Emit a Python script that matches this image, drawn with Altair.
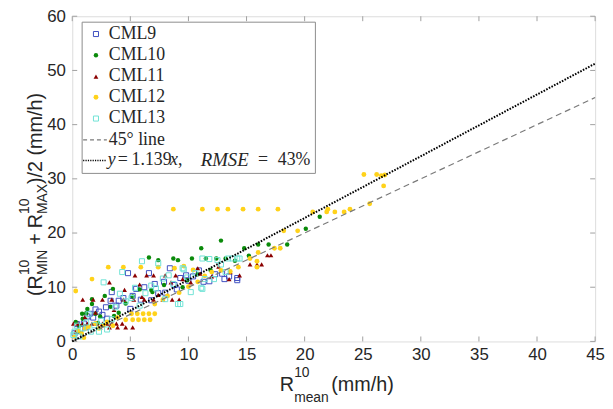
import altair as alt
import pandas as pd

# ---------------- data ----------------
series_names = ["CML9", "CML10", "CML11", "CML12", "CML13"]

cml9 = [(0.2, 1.5), (0.4, 3.2), (0.7, 2.3), (1.0, 3.3), (1.3, 4.6), (1.5, 5.1), (1.8, 4.4),
        (2.0, 5.9), (2.3, 5.5), (2.6, 4.9), (2.9, 6.3), (3.3, 7.5), (3.4, 9.1), (3.8, 6.6),
        (4.0, 7.5), (4.4, 8.0), (4.8, 12.6), (5.2, 8.4), (5.5, 9.7), (5.9, 7.7), (6.2, 10.0),
        (6.6, 12.6), (7.1, 10.6), (7.4, 8.9), (7.9, 11.0), (8.4, 13.5), (8.8, 10.4), (9.3, 11.7),
        (9.8, 12.2), (10.4, 12.0), (10.9, 13.1), (11.3, 11.0), (11.8, 11.1), (12.3, 12.4),
        (12.9, 12.5), (13.1, 11.5), (13.5, 12.0), (14.2, 11.3), (14.2, 11.7), (3.0, 4.2),
        (5.0, 6.0), (6.8, 7.6), (8.0, 9.0), (9.0, 9.6), (10.0, 11.2), (1.2, 2.6), (0.5, 1.0)]

cml10 = [(0.3, 3.6), (0.6, 2.9), (0.9, 4.2), (0.85, 5.1), (1.2, 5.2), (1.3, 6.0), (1.7, 6.9),
         (1.7, 7.8), (2.0, 5.1), (2.4, 4.6), (2.8, 8.4), (3.3, 6.4), (3.5, 9.7), (3.6, 4.7),
         (4.0, 5.3), (4.6, 7.0), (5.2, 8.3), (5.8, 9.6), (6.6, 15.5), (6.8, 9.5), (6.9, 9.1),
         (7.4, 15.0), (7.9, 10.4), (8.7, 15.3), (9.1, 15.0), (9.5, 10.0), (9.9, 11.3),
         (10.3, 15.3), (10.8, 12.4), (11.1, 17.2), (11.5, 15.3), (11.9, 13.2), (12.4, 15.3),
         (12.8, 18.6), (13.2, 15.3), (14.0, 14.9), (14.8, 17.2), (16.0, 17.9), (16.9, 17.9),
         (18.5, 17.9), (20.1, 20.8), (21.3, 23.0), (15.2, 15.8), (2.2, 3.4), (0.5, 1.9)]

cml11 = [(0.1, 3.3), (0.5, 3.3), (0.9, 3.3), (1.3, 3.3), (1.7, 3.3), (2.1, 3.3), (2.6, 3.3),
         (3.0, 3.3), (3.4, 3.3), (3.8, 3.3), (4.3, 3.3), (2.4, 2.6), (3.2, 2.6), (3.9, 2.6),
         (4.6, 2.6), (5.2, 2.6), (0.9, 7.7), (1.8, 7.7), (2.6, 7.7), (3.4, 7.7), (4.4, 7.7),
         (5.3, 7.7), (6.2, 7.7), (7.0, 7.7), (7.8, 7.7), (8.6, 7.7), (9.2, 7.7), (5.4, 12.2),
         (6.4, 12.2), (7.0, 12.2), (8.0, 12.2), (8.9, 12.2), (3.2, 10.9), (4.5, 9.5),
         (5.8, 10.5), (6.0, 8.2), (7.4, 8.6), (8.5, 10.9), (9.5, 11.5), (10.2, 10.9),
         (11.0, 12.5), (12.0, 12.0), (13.6, 12.8), (14.4, 12.2), (13.5, 11.5), (15.3, 14.2),
         (15.9, 14.2), (16.3, 14.2), (16.8, 15.9), (17.1, 15.9), (0.3, 1.8), (1.1, 4.5),
         (2.0, 5.3), (3.6, 5.8), (10.8, 13.5), (12.6, 13.8)]

cml12 = [(0.2, 0.9), (0.3, 9.3), (0.5, 2.0), (0.8, 1.5), (1.1, 2.4), (1.4, 2.7), (1.7, 11.5),
         (2.0, 3.3), (2.3, 2.4), (2.7, 3.0), (3.0, 3.6), (3.1, 13.7), (3.5, 2.9), (3.9, 4.4),
         (4.4, 13.7), (4.6, 4.0), (5.1, 5.1), (5.2, 4.0), (5.6, 5.1), (5.7, 4.0), (5.9, 13.7),
         (6.1, 5.1), (6.2, 4.0), (6.6, 5.1), (6.7, 4.0), (7.1, 5.1), (7.1, 6.9), (7.4, 13.7),
         (7.8, 7.7), (8.2, 8.4), (8.7, 24.4), (8.8, 13.5), (9.2, 9.0), (9.6, 13.9),
         (10.0, 10.1), (10.4, 13.2), (10.8, 11.0), (11.2, 24.4), (11.4, 12.1), (12.0, 12.8),
         (12.5, 24.4), (12.8, 13.1), (13.4, 24.4), (13.6, 12.9), (14.3, 13.7), (14.7, 24.4),
         (15.3, 15.3), (15.9, 14.8), (15.9, 13.7), (16.0, 16.4), (16.0, 24.4), (17.4, 17.2),
         (17.7, 24.4), (17.9, 17.2), (18.2, 20.4), (19.4, 20.4), (20.7, 23.9), (21.9, 23.9),
         (22.0, 24.4), (22.6, 23.9), (23.4, 23.9), (23.9, 24.4), (25.6, 25.4), (25.1, 30.8),
         (26.2, 30.8), (26.6, 30.6), (26.9, 30.7), (26.8, 28.7), (1.0, 0.7)]

cml13 = [(0.1, 1.2), (0.2, 1.8), (0.4, 2.9), (0.6, 0.9), (0.9, 2.4), (1.2, 3.5), (1.6, 1.8),
         (1.9, 3.0), (2.3, 1.8), (2.5, 3.8), (2.7, 10.9), (3.0, 2.2), (3.4, 4.1), (3.7, 6.3),
         (4.1, 8.8), (4.3, 12.8), (4.6, 7.4), (5.1, 8.0), (5.4, 9.9), (6.0, 14.8), (6.3, 8.9),
         (6.8, 10.3), (7.2, 9.8), (7.4, 14.4), (7.8, 11.6), (8.3, 12.2), (8.7, 10.6), (9.1, 6.9),
         (9.3, 6.9), (9.5, 13.5), (9.6, 13.3), (9.9, 11.8), (10.2, 9.1), (10.6, 12.6),
         (11.1, 9.9), (11.2, 15.3), (11.2, 9.7), (11.4, 11.5), (11.8, 15.2), (12.2, 11.5),
         (12.5, 15.0), (12.8, 14.2), (13.2, 12.8), (13.4, 15.3), (13.8, 15.3), (14.2, 15.3),
         (14.4, 15.3), (5.8, 6.6), (8.0, 7.8), (1.4, 5.0)]

line45_x = [0, 45]
line45_y = [0, 45]
fit_x = [0, 45]
fit_y = [0, 51.255]
x_ticks = [0, 5, 10, 15, 20, 25, 30, 35, 40, 45]
y_ticks = [0, 10, 20, 30, 40, 50, 60]
fit_label = ["y", "=", "1.139", "x", ",", "RMSE", "=", "43%"]

# ---------------- styling ----------------
W, H = 529, 329
SANS = "Liberation Sans"
SERIF = "Liberation Serif"
FRAME = "#9a9a9a"
styles = {
    "CML9": dict(shape="square", filled=False, color="#3f4fc0", size=26, strokeWidth=1),
    "CML10": dict(shape="circle", filled=True, color="#0a8a0a", size=20, strokeWidth=0),
    "CML11": dict(shape="triangle-up", filled=True, color="#8b0000", size=24, strokeWidth=0),
    "CML12": dict(shape="circle", filled=True, color="#ffd21a", size=24, strokeWidth=0),
    "CML13": dict(shape="square", filled=False, color="#6fe3d6", size=26, strokeWidth=1),
}

xs = alt.Scale(domain=[0, 45], nice=False, zero=False)
ys = alt.Scale(domain=[0, 60], nice=False, zero=False)
ax_x = alt.Axis(values=x_ticks, ticks=False, domain=False, grid=False, title=None,
                labelFont=SANS, labelFontSize=17, labelColor="#262626", labelPadding=5,
                labelFlush=False, labelOverlap=False)
ax_y = alt.Axis(values=y_ticks, ticks=False, domain=False, grid=False, title=None,
                labelFont=SANS, labelFontSize=17, labelColor="#262626", labelPadding=7,
                labelFlush=False, labelOverlap=False)
X = lambda f: alt.X(f, type="quantitative", scale=xs, axis=ax_x)
Y = lambda f: alt.Y(f, type="quantitative", scale=ys, axis=ax_y)

layers = []

# ticks (inward, MATLAB style)
xt = pd.DataFrame({"v": x_ticks})
yt = pd.DataFrame({"v": y_ticks})
tick_color = "#a0a0a0"
layers.append(alt.Chart(xt).mark_rule(color=tick_color).encode(x=X("v"), y=alt.value(H), y2=alt.value(H - 5)))
layers.append(alt.Chart(xt).mark_rule(color=tick_color).encode(x=X("v"), y=alt.value(0), y2=alt.value(5)))
layers.append(alt.Chart(yt).mark_rule(color=tick_color).encode(y=Y("v"), x=alt.value(0), x2=alt.value(5)))
layers.append(alt.Chart(yt).mark_rule(color=tick_color).encode(y=Y("v"), x=alt.value(W), x2=alt.value(W - 5)))

# scatter series
for name, pts in zip(series_names, [cml9, cml10, cml11, cml12, cml13]):
    df = pd.DataFrame(pts, columns=["x", "y"])
    st = styles[name]
    layers.append(
        alt.Chart(df).mark_point(shape=st["shape"], filled=st["filled"], color=st["color"],
                                 size=st["size"], strokeWidth=st["strokeWidth"], opacity=1)
        .encode(x=X("x"), y=Y("y"))
    )

# lines
d45 = pd.DataFrame({"x": line45_x, "y": line45_y})
dfit = pd.DataFrame({"x": fit_x, "y": fit_y})
layers.append(alt.Chart(d45).mark_line(color="#7a7a7a", strokeDash=[6, 4], strokeWidth=1.2)
              .encode(x=X("x"), y=Y("y")))
layers.append(alt.Chart(dfit).mark_line(color="#000000", strokeDash=[1.6, 1.4], strokeWidth=2)
              .encode(x=X("x"), y=Y("y")))

one = pd.DataFrame({"k": [0]})


def txt(s, x, y, size, font=SANS, angle=0, style="normal", align="left", baseline="alphabetic"):
    kw = dict(font=font, fontSize=size, color="#262626", align=align, baseline=baseline,
              fontStyle=style)
    if angle:
        kw["angle"] = angle
    return alt.Chart(one).mark_text(**kw).encode(x=alt.value(x), y=alt.value(y), text=alt.value(s))


# legend box
layers.append(alt.Chart(one).mark_rect(fill="white", stroke="#8c8c8c", strokeWidth=1)
              .encode(x=alt.value(10), x2=alt.value(246), y=alt.value(6), y2=alt.value(159)))
rows = [18, 39.5, 61, 82, 103.5, 125, 146]
for i, name in enumerate(series_names):
    st = styles[name]
    layers.append(alt.Chart(one).mark_point(shape=st["shape"], filled=st["filled"], color=st["color"],
                                            size=st["size"], strokeWidth=st["strokeWidth"], opacity=1)
                  .encode(x=alt.value(24), y=alt.value(rows[i])))
    layers.append(txt(name, 37, rows[i], 18, font=SERIF, baseline="middle", style="normal"))
# 45 line entry
layers.append(alt.Chart(one).mark_rule(color="#7a7a7a", strokeDash=[4, 3], strokeWidth=1.2)
              .encode(x=alt.value(11), x2=alt.value(35), y=alt.value(rows[5]), y2=alt.value(rows[5])))
layers.append(txt("45° line", 37, rows[5], 18, font=SERIF, baseline="middle"))
# fit entry
layers.append(alt.Chart(one).mark_rule(color="#000000", strokeDash=[1.2, 1.2], strokeWidth=1.5)
              .encode(x=alt.value(11), x2=alt.value(35), y=alt.value(rows[6]), y2=alt.value(rows[6])))
fit_pos = [36, 46, 60, 99, 107, 130, 188, 208]
fit_ital = [True, False, False, True, False, True, False, False]
fit_size = [18, 18, 18, 18, 18, 19, 18, 18]
for s, px, it, fs in zip(fit_label, fit_pos, fit_ital, fit_size):
    layers.append(txt(s, px, rows[6], fs, font=SERIF, baseline="middle",
                      style="italic" if it else "normal"))

# x axis title: R^10_mean (mm/h)
xb = 379
layers.append(txt("R", 210, xb, 20))
layers.append(txt("10", 224.5, xb - 14, 14))
layers.append(txt("mean", 224.5, xb + 11, 14))
layers.append(txt("(mm/h)", 262, xb, 20))

# y axis title (rotated): (R^10_MIN + R^10_MAX)/2 (mm/h)
yb = -31
y0 = 283
layers.append(txt("(R", yb, y0, 20, angle=270))
p = y0 - 21.1
layers.append(txt("10", yb - 13, p, 14, angle=270))
layers.append(txt("MIN", yb + 5, p, 14, angle=270))
p -= 25.7 + 5
layers.append(txt("+", yb, p, 20, angle=270))
p -= 11.7 + 5
layers.append(txt("R", yb, p, 20, angle=270))
p -= 14.4
layers.append(txt("10", yb - 13, p, 14, angle=270))
layers.append(txt("MAX", yb + 5, p, 14, angle=270))
p -= 30.3
layers.append(txt(")/2 (mm/h)", yb, p, 20, angle=270))

chart = alt.layer(*layers).properties(
    width=W, height=H,
    autosize=alt.AutoSizeParams(type="none"),
    padding={"left": 65, "top": 6, "right": 10, "bottom": 64},
).configure_view(stroke=FRAME, strokeWidth=1).configure(background="white")

chart.save("out.html", embed_options={"renderer": "svg", "actions": False})
